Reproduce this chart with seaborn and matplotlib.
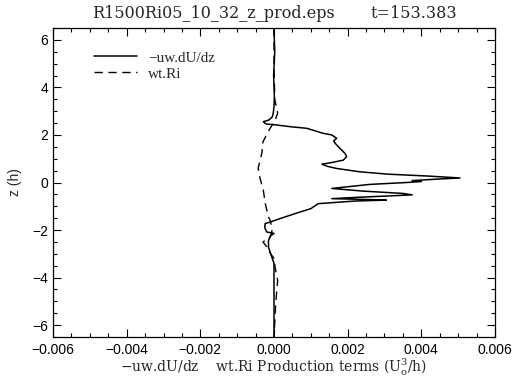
import numpy as np
import pandas as pd
import matplotlib
matplotlib.use("Agg")
import matplotlib.pyplot as plt
from matplotlib.ticker import MultipleLocator
import seaborn as sns

# Vertical profiles of the two production terms (units U_o^3/h), height z in h
z_shear = [6.5, 5.5, 4.5, 3.6, 3.2, 2.92, 2.75, 2.62, 2.56, 2.50, 2.46, 2.42,
           2.35, 2.28, 2.18, 2.07, 2.00, 1.86, 1.75, 1.65, 1.50, 1.36, 1.22,
           1.08, 0.94, 0.85, 0.77, 0.68, 0.59, 0.45, 0.35, 0.27, 0.19, 0.14,
           0.08, 0.04, 0.00, -0.08, -0.25, -0.36, -0.46, -0.52, -0.56, -0.62,
           -0.68, -0.71, -0.74, -0.78, -0.89, -1.10, -1.31, -1.50, -1.66,
           -1.73, -1.90, -2.08, -2.14, -2.25, -2.43, -2.72, -3.14, -3.40,
           -4.50, -5.50, -6.50]
uw_dudz = [0.00, 0.02, -0.01, 0.01, 0.00, -0.02, -0.05, -0.15, -0.29, -0.25,
           -0.20, 0.07, 0.43, 0.89, 1.10, 1.33, 1.57, 1.70, 1.62, 1.66, 1.75,
           1.84, 1.93, 1.97, 1.88, 1.60, 1.30, 1.45, 1.70, 2.33, 3.10, 4.20,
           5.05, 4.40, 3.75, 4.00, 3.60, 2.60, 1.57, 2.40, 3.50, 3.75, 3.20,
           2.30, 1.57, 2.40, 3.05, 2.20, 1.20, 1.00, 0.57, 0.20, -0.10,
           -0.24, -0.25, -0.20, 0.00, -0.10, -0.15, -0.15, -0.06, 0.00, 0.00,
           0.00, 0.00]

z_buoy = [6.5, 5.0, 3.5, 2.92, 2.70, 2.42, 2.13, 1.71, 1.24, 0.60, 0.18,
          -0.32, -0.87, -1.45, -1.60, -2.00, -2.30, -2.50, -2.70, -2.86,
          -3.20, -3.56, -4.12, -5.00, -6.50]
wt_ri = [0.00, 0.00, 0.02, 0.10, 0.05, -0.05, -0.16, -0.30, -0.33, -0.43,
         -0.38, -0.29, -0.24, -0.15, -0.10, -0.05, -0.10, -0.30, -0.20,
         -0.15, 0.00, 0.03, 0.10, 0.05, 0.00]

x_ticks = [-0.006, -0.004, -0.002, 0.000, 0.002, 0.004, 0.006]
y_ticks = [-6, -4, -2, 0, 2, 4, 6]

shear = pd.DataFrame({"z": z_shear, "P": np.array(uw_dudz) * 1e-3})
buoy = pd.DataFrame({"z": z_buoy, "P": np.array(wt_ri) * 1e-3})

sns.set_style("ticks")
plt.rcParams["font.family"] = ["Liberation Sans", "DejaVu Sans"]

fig = plt.figure(figsize=(5.14, 3.77), dpi=100)
ax = fig.add_axes([53 / 514, 1 - 337 / 377, 442 / 514, 309 / 377])

sns.lineplot(data=shear, x="P", y="z", sort=False, estimator=None,
             color="black", lw=1.1, ax=ax, label="\u2212uw.dU/dz")
sns.lineplot(data=buoy, x="P", y="z", sort=False, estimator=None,
             color="black", lw=1.0, ax=ax, label="wt.Ri",
             dashes=False, linestyle=(0, (6, 4)))

ax.set_xlim(-0.006, 0.006)
ax.set_ylim(-6.5, 6.5)
ax.set_xticks(x_ticks)
ax.set_yticks(y_ticks)
ax.set_xticklabels([f"{v:.3f}".replace("-", "\u2212") for v in x_ticks])
ax.set_yticklabels([str(v).replace("-", "\u2212") for v in y_ticks])
ax.xaxis.set_minor_locator(MultipleLocator(0.0005))
ax.yaxis.set_minor_locator(MultipleLocator(0.5))
ax.tick_params(which="both", direction="in", top=True, right=True,
               width=0.8, labelsize=10, colors="black")
ax.tick_params(which="major", length=6)
ax.tick_params(which="minor", length=3)
ax.tick_params(axis="x", pad=4)
for s in ax.spines.values():
    s.set_linewidth(0.9)
    s.set_color("black")

ax.set_xlabel("\u2212uw.dU/dz    wt.Ri Production terms (U$_\\mathregular{o}^\\mathregular{3}$/h)",
              fontfamily="DejaVu Serif", fontsize=10, labelpad=0)
ax.set_ylabel("z (h)", fontsize=10, labelpad=7)

leg = ax.legend(loc="upper left", bbox_to_anchor=(0.08, 0.945), frameon=False,
                handlelength=2.8, handletextpad=0.7, labelspacing=0.15,
                prop={"family": "Liberation Serif", "size": 11}, borderaxespad=0)

fig.text(213 / 514, 1 - 13 / 377, "R1500Ri05_10_32_z_prod.eps",
         ha="center", va="center", fontfamily="DejaVu Serif", fontsize=11.5)
fig.text(414 / 514, 1 - 13 / 377, "t=153.383",
         ha="center", va="center", fontfamily="DejaVu Serif", fontsize=11.5)

fig.savefig("out.png", dpi=100)
